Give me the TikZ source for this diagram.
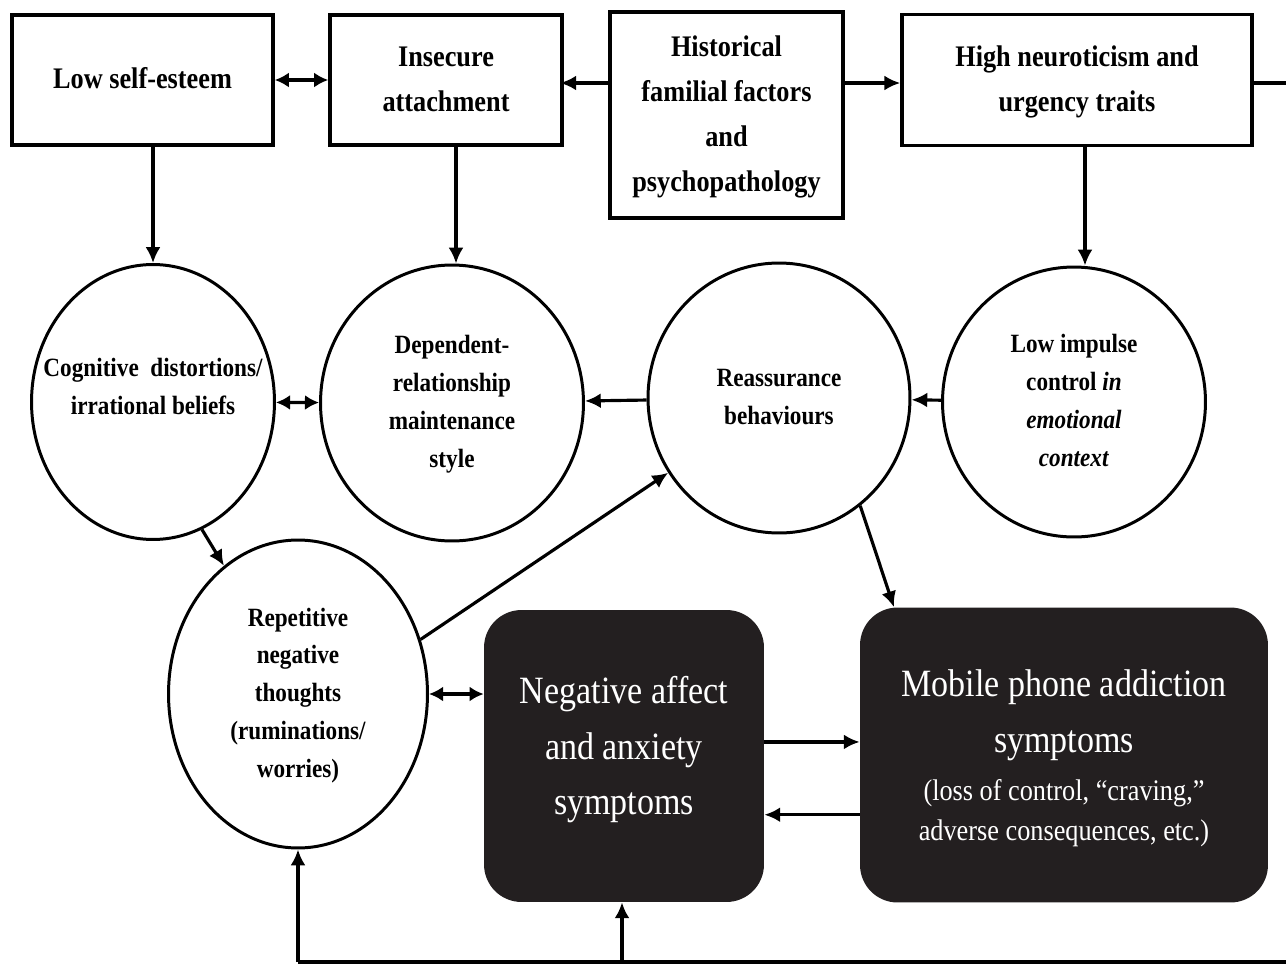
\documentclass[tikz,border=0pt]{standalone}
\usepackage{fontspec}
\setmainfont{Liberation Serif}
\usepackage{graphicx}
\usetikzlibrary{arrows.meta,shapes.geometric}
\newcommand{\narrowtxt}[2][]{\makebox[0pt]{\scalebox{0.88}[1]{#1\begin{tabular}{@{}c@{}}#2\end{tabular}}}}
\definecolor{inkdark}{HTML}{231F20}

\begin{document}
\begin{tikzpicture}[x=0.02cm,y=-0.02cm,
  factorbox/.style={draw,line width=2pt,rectangle,inner sep=0pt,font=\fontsize{17}{25.5}\selectfont\bfseries},
  processcirc/.style={draw,line width=1.7pt,ellipse,inner sep=0pt,font=\fontsize{15}{21.5}\selectfont\bfseries},
  symptombox/.style={fill=inkdark,text=white,rectangle,rounded corners=0.75cm,inner sep=0pt},
  arr/.style={line width=1.8pt,-{Latex[length=9pt,width=8.5pt]}},
  dblarr/.style={line width=1.8pt,{Latex[length=8pt,width=8.5pt]}-{Latex[length=8pt,width=8.5pt]}},
  plainline/.style={line width=2.2pt}]
\useasboundingbox (0,0) rectangle (1286,967);
\node[factorbox,minimum width=5.22cm,minimum height=2.6cm] (selfest) at (142.5,80) {\narrowtxt{Low self-esteem}};
\node[factorbox,minimum width=4.64cm,minimum height=2.6cm] (insecure) at (446,80) {\narrowtxt{Insecure\\attachment}};
\node[factorbox,minimum width=4.66cm,minimum height=4.12cm] (familial) at (726.5,115) {\narrowtxt{Historical\\familial factors\\and\\psychopathology}};
\node[factorbox,minimum width=7.0cm,minimum height=2.62cm] (neurotic) at (1077,80) {\narrowtxt{High neuroticism and\\urgency traits}};
\node[processcirc,minimum width=4.86cm,minimum height=5.5cm] (cognitive) at (153,402) {\raisebox{8pt}[\height][\depth]{\narrowtxt{Cognitive\ \ distortions/\\irrational beliefs}}};
\node[processcirc,minimum width=5.26cm,minimum height=5.52cm] (dependent) at (452,403) {\narrowtxt{Dependent-\\relationship\\maintenance\\style}};
\node[processcirc,minimum width=5.24cm,minimum height=5.4cm] (reassure) at (779,398) {\narrowtxt{Reassurance\\behaviours}};
\node[processcirc,minimum width=5.26cm,minimum height=5.4cm] (impulse) at (1074,402) {\narrowtxt{Low impulse\\control \textit{in}\\\textit{emotional}\\\textit{context}}};
\node[processcirc,minimum width=5.18cm,minimum height=6.16cm] (rumination) at (298,694) {\narrowtxt{Repetitive\\negative\\thoughts\\(ruminations/\\worries)}};
\node[symptombox,minimum width=5.6cm,minimum height=5.84cm] (negaffect) at (624,756) {\raisebox{4.5pt}[\height][\depth]{\narrowtxt[\fontsize{22}{31.7}\selectfont]{Negative affect\\and anxiety\\symptoms}}};
\node[symptombox,minimum width=8.16cm,minimum height=5.9cm] (mobile) at (1064,755) {\narrowtxt[\fontsize{22}{31.7}\selectfont]{Mobile phone addiction\\symptoms\\[-4pt]\fontsize{17}{22.7}\selectfont\begin{tabular}[t]{@{}c@{}}(loss of control, “craving,”\\adverse consequences, etc.)\end{tabular}}};
\coordinate (rimtop) at (1286,83);
\coordinate (rimbottom) at (1286,962);
\draw[dblarr] (selfest) -- (insecure);
\draw[arr] (insecure.east -| familial.west) ++(0,3) -- ++(-48,0);
\draw[arr] (familial.east |- rimtop) -- (neurotic.west |- rimtop);
\draw[plainline] (neurotic.east |- rimtop) -- (rimtop);
\draw[arr] (selfest.south -| cognitive.north) -- (cognitive.north);
\draw[arr] (insecure.south -| 456,0) -- (dependent.north -| 456,0);
\draw[arr] (neurotic.south -| 1085,0) -- (impulse.north -| 1085,0);
\draw[dblarr] (cognitive) -- (dependent);
\draw[arr] (reassure) -- (dependent);
\draw[arr] (impulse) -- (reassure);
\draw[arr] (cognitive.-69) -- (rumination.120);
\draw[arr] (rumination.24) -- (reassure.214);
\draw[arr] (reassure.-53) -- (mobile.139);
\draw[dblarr] (rumination) -- (rumination -| negaffect.west);
\draw[arr] ([yshift=8pt]negaffect.east) -- ([yshift=8pt]negaffect.east -| mobile.west);
\draw[arr] ([yshift=-34pt]mobile.west) -- ([yshift=-34pt]mobile.west -| negaffect.east);
\draw[plainline] (rimbottom) -- (rimbottom -| rumination.south);
\draw[arr] (rimbottom -| rumination.south) -- (rumination.south);
\draw[arr] (rimbottom -| 622,0) -- (negaffect.south -| 622,0);
\end{tikzpicture}
\end{document}
